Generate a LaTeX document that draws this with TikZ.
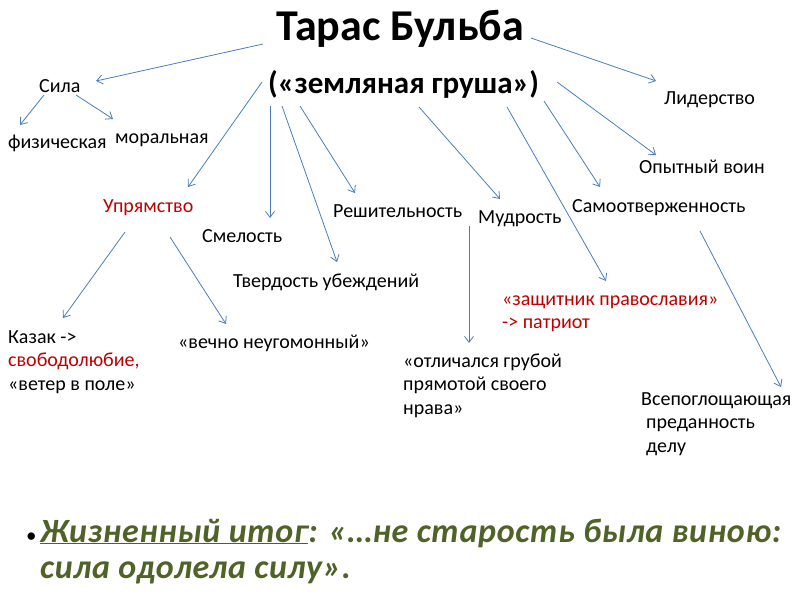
\documentclass[tikz,border=0pt]{standalone}
\usepackage{fontspec}
\setmainfont{Carlito}
\usetikzlibrary{arrows.meta}
\definecolor{arrc}{RGB}{74,126,187}
\definecolor{redc}{RGB}{192,0,0}
\definecolor{grn}{RGB}{79,98,40}
\tikzset{
  lbl/.style={anchor=base west, inner sep=0pt, font=\fontsize{20}{23.5}\selectfont, align=left},
  arr/.style={draw=arrc, line width=0.8pt, -{Straight Barb[length=6pt,width=9pt]}},
}
\begin{document}
\begin{tikzpicture}[x=1pt,y=-1pt]
\useasboundingbox (0,0) rectangle (800,600);
\fill[white] (0,0) rectangle (800,600);
% titles
\node[anchor=base west, inner sep=0pt, font=\bfseries\fontsize{44}{50}\selectfont] (title) at (276,40) {Тарас Бульба};
\node[anchor=base west, inner sep=0pt, font=\bfseries\fontsize{31}{38}\selectfont] (sub) at (268,93) {(«земляная груша»)};
% labels
\node[lbl] (sila) at (39,92) {Сила};
\node[lbl] (fiz) at (8,148) {физическая};
\node[lbl] (mor) at (115,143) {моральная};
\node[lbl, text=redc] (upr) at (103,212) {Упрямство};
\node[lbl] (smel) at (202,242) {Смелость};
\node[lbl] (resh) at (333,217) {Решительность};
\node[lbl] (tverd) at (233,287) {Твердость убеждений};
\node[lbl] (mudr) at (478,223) {Мудрость};
\node[lbl] (samo) at (572,212) {Самоотверженность};
\node[lbl] (lid) at (664,104) {Лидерство};
\node[lbl] (opyt) at (639,173) {Опытный воин};
\node[lbl] (kazak) at (8,390) {Казак ->\\\textcolor{redc}{свободолюбие,}\\«ветер в поле»};
\node[lbl] (vechno) at (178,348) {«вечно неугомонный»};
\node[lbl] (otl) at (403,414) {«отличался грубой\\прямотой своего\\нрава»};
\node[lbl, text=redc] (zasch) at (502,328.5) {«защитник православия»\\-> патриот};
\node[lbl] (vsep) at (641,452) {Всепоглощающая\\\hspace*{0.25em}преданность\\\hspace*{0.25em}делу};
% bottom
\node[anchor=base west, inner sep=0pt, font=\fontsize{21}{24}\selectfont] (bul) at (26,542) {•};
\node[anchor=base west, inner sep=0pt, text=grn, align=left, font=\bfseries\itshape\fontsize{34}{36}\selectfont\addfontfeature{LetterSpace=2}] (itog) at (40,578) {\underline{Жизненный итог}: «…не старость была виною:\\сила одолела силу».};
% connector end points
\coordinate (t1) at (263,44); \coordinate (sila-in) at (96,81);
\coordinate (t2) at (531,38); \coordinate (lid-in) at (656,81);
\coordinate (s1) at (262,82); \coordinate (upr-in) at (188,187);
\coordinate (s2) at (270,106); \coordinate (smel-in) at (270,218);
\coordinate (s3) at (282,106); \coordinate (tverd-in) at (337,262);
\coordinate (s4) at (300,106); \coordinate (resh-in) at (355,193);
\coordinate (s5) at (419,107); \coordinate (mudr-in) at (500,199);
\coordinate (s6) at (507,107); \coordinate (zasch-in) at (606,281);
\coordinate (s7) at (544,101); \coordinate (samo-in) at (600,187);
\coordinate (s8) at (557,82); \coordinate (opyt-in) at (656,155);
\coordinate (sila-o1) at (44,95); \coordinate (fiz-in) at (20,125);
\coordinate (sila-o2) at (76,95); \coordinate (mor-in) at (113,119);
\coordinate (upr-o1) at (125,232); \coordinate (kazak-in) at (63,318);
\coordinate (upr-o2) at (170,237); \coordinate (vechno-in) at (226,324);
\coordinate (mudr-o) at (469,226); \coordinate (otl-in) at (469,343);
\coordinate (samo-o) at (700,231); \coordinate (vsep-in) at (781,387);
% connectors
\draw[arr] (t1) -- (sila-in);
\draw[arr] (t2) -- (lid-in);
\draw[arr] (s1) -- (upr-in);
\draw[arr] (s2) -- (smel-in);
\draw[arr] (s3) -- (tverd-in);
\draw[arr] (s4) -- (resh-in);
\draw[arr] (s5) -- (mudr-in);
\draw[arr] (s6) -- (zasch-in);
\draw[arr] (s7) -- (samo-in);
\draw[arr] (s8) -- (opyt-in);
\draw[arr] (sila-o1) -- (fiz-in);
\draw[arr] (sila-o2) -- (mor-in);
\draw[arr] (upr-o1) -- (kazak-in);
\draw[arr] (upr-o2) -- (vechno-in);
\draw[arr] (mudr-o) -- (otl-in);
\draw[arr] (samo-o) -- (vsep-in);
\end{tikzpicture}
\end{document}
